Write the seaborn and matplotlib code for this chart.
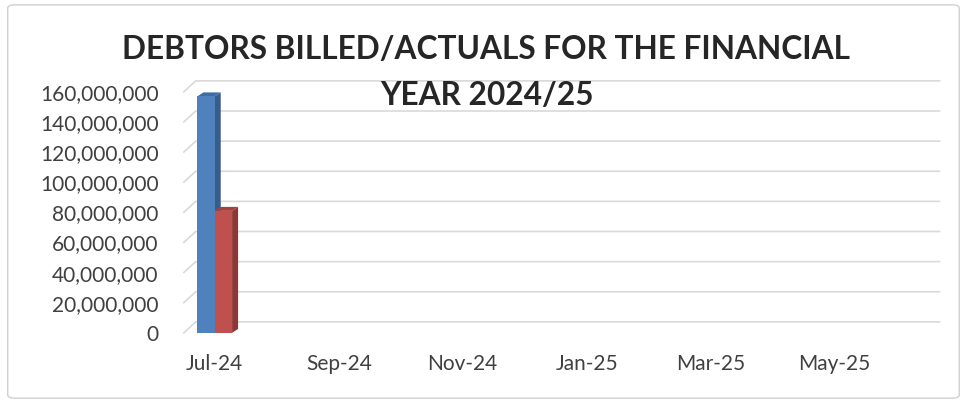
import matplotlib
matplotlib.use("Agg")
import matplotlib.pyplot as plt
import seaborn as sns
import pandas as pd
import numpy as np
from matplotlib.patches import Polygon, FancyBboxPatch
from matplotlib.transforms import IdentityTransform
from matplotlib.ticker import FuncFormatter

# ---- data ----
months = ["Jul-24", "Aug-24", "Sep-24", "Oct-24", "Nov-24", "Dec-24",
          "Jan-25", "Feb-25", "Mar-25", "Apr-25", "May-25", "Jun-25"]
billed = [157000000, None, None, None, None, None, None, None, None, None, None, None]
actuals = [81000000, None, None, None, None, None, None, None, None, None, None, None]
series_names = ["Billed", "Actuals"]
y_ticks = [0, 20000000, 40000000, 60000000, 80000000, 100000000, 120000000, 140000000, 160000000]
title_lines = ["DEBTORS BILLED/ACTUALS FOR THE FINANCIAL", "YEAR 2024/25"]

rows = []
for m, b, a in zip(months, billed, actuals):
    if b is not None:
        rows.append({"Month": m, "Series": series_names[0], "Value": b})
    if a is not None:
        rows.append({"Month": m, "Series": series_names[1], "Value": a})
df = pd.DataFrame(rows)

sns.set_theme(style="white")
plt.rcParams["font.family"] = ["Lato", "DejaVu Sans"]

front_colors = ["#4F81BD", "#C0504D"]
side_colors = ["#385D8A", "#8C3836"]
top_colors = ["#3E6CA3", "#A8403D"]
grid_color = "#D9D9D9"

fig = plt.figure(figsize=(9.67, 4.03), dpi=100)
ax = fig.add_axes([0.190, 0.174, 0.7694, 0.598])
ax.set_zorder(1)

sns.barplot(data=df, x="Month", y="Value", hue="Series", order=months,
            hue_order=series_names, palette=front_colors, width=0.56,
            dodge=True, saturation=1, legend=False, ax=ax, zorder=3,
            linewidth=0)

ax.set_xlim(-0.5, len(months) - 0.5)
ax.set_ylim(y_ticks[0], y_ticks[-1])
ax.set_yticks(y_ticks)
ax.yaxis.set_major_formatter(FuncFormatter(lambda v, p: f"{v:,.0f}"))
ax.set_xticks(range(0, len(months), 2))
ax.set_xticklabels(months[::2])
ax.set_xlabel("")
ax.set_ylabel("")
for s in ax.spines.values():
    s.set_visible(False)
ax.tick_params(axis="both", length=0, labelsize=15, colors="#404040")
ax.tick_params(axis="y", pad=18)
ax.tick_params(axis="x", pad=15)
ax.patch.set_visible(False)

# 3D-ish back wall gridlines (drawn behind the axes contents)
gdx, gdy = 12, 11
ytr = ax.get_yaxis_transform()
for v in y_ticks:
    x0, y0 = ytr.transform((0, v))
    x1, y1 = ytr.transform((1, v))
    line = plt.Line2D([x0, x0 + gdx, x1 + gdx], [y0, y0 + gdy, y1 + gdy],
                      transform=IdentityTransform(), color=grid_color, lw=1.2,
                      zorder=0.2)
    fig.add_artist(line)

# 3D side/top faces of bars
bdx, bdy = 6, 4
bars = [p for p in ax.patches if p.get_height() > 0]
inv = ax.transData.inverted()
for p in bars:
    fc = p.get_facecolor()
    idx = 0 if np.allclose(fc[:3], matplotlib.colors.to_rgb(front_colors[0]), atol=0.02) else 1
    x, w, h = p.get_x(), p.get_width(), p.get_height()
    (xl, yb) = ax.transData.transform((x, 0))
    (xr, yt) = ax.transData.transform((x + w, h))
    side_pts = inv.transform([[xr, yb], [xr + bdx, yb + bdy], [xr + bdx, yt + bdy], [xr, yt]])
    top_pts = inv.transform([[xl, yt], [xl + bdx, yt + bdy], [xr + bdx, yt + bdy], [xr, yt]])
    ax.add_patch(Polygon(side_pts, closed=True, facecolor=side_colors[idx],
                         edgecolor="none", zorder=2.9, clip_on=False))
    ax.add_patch(Polygon(top_pts, closed=True, facecolor=top_colors[idx],
                         edgecolor="none", zorder=2.9, clip_on=False))

fig.text(0.503, 0.876, title_lines[0], ha="center", va="center", fontsize=22.8,
         fontweight="bold", color="#262626", zorder=5)
fig.text(0.504, 0.762, title_lines[1], ha="center", va="center", fontsize=22.8,
         fontweight="bold", color="#262626", zorder=5)

border = FancyBboxPatch((0.008, 0.012), 0.984, 0.976, boxstyle="round,pad=0,rounding_size=0.008",
                        transform=fig.transFigure, facecolor="none", edgecolor="#D0D0D0", lw=1)
fig.add_artist(border)

fig.savefig("out.png", dpi=100)
